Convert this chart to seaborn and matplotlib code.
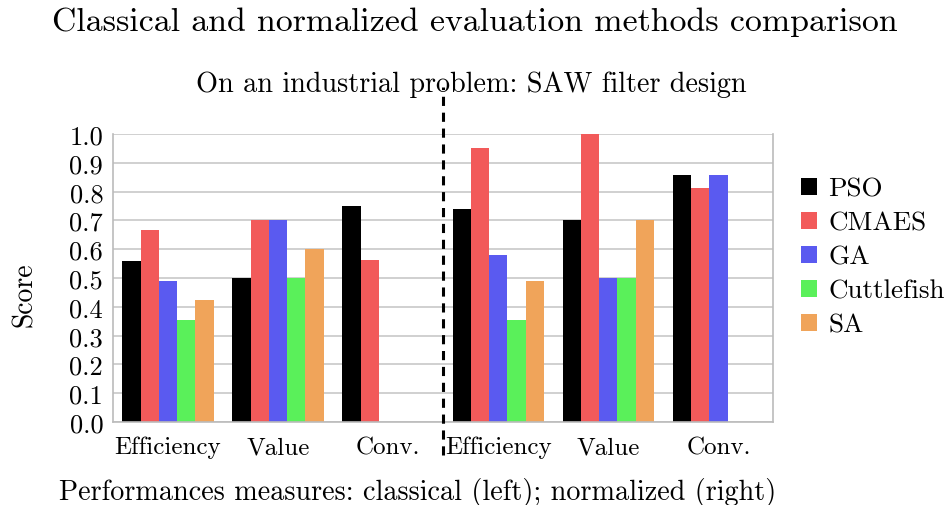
import numpy as np
import pandas as pd
import seaborn as sns
import matplotlib.pyplot as plt
from matplotlib.patches import Patch

# data
groups = ["eff_c", "val_c", "conv_c", "eff_n", "val_n", "conv_n"]
group_labels = ["Efficiency", "Value", "Conv.", "Efficiency", "Value", "Conv."]
methods = ["PSO", "CMAES", "GA", "Cuttlefish", "SA"]
pso = [0.56, 0.50, 0.75, 0.74, 0.70, 0.857]
cmaes = [0.667, 0.70, 0.5625, 0.951, 1.00, 0.8125]
ga = [0.49, 0.70, 0.0, 0.58, 0.50, 0.857]
cuttlefish = [0.354, 0.50, 0.0, 0.354, 0.50, 0.0]
sa = [0.424, 0.60, 0.0, 0.49, 0.70, 0.0]
colors = ["#000000", "#F25A5A", "#5A5AF0", "#5AF05A", "#F0A45A"]

rows = []
for m, vals in zip(methods, [pso, cmaes, ga, cuttlefish, sa]):
    for g, v in zip(groups, vals):
        rows.append({"group": g, "method": m, "score": v})
df = pd.DataFrame(rows)

sns.set_theme(style="white")
plt.rcParams['font.family'] = ['cmr10', 'DejaVu Serif']
plt.rcParams['axes.formatter.use_mathtext'] = True
plt.rcParams['mathtext.fontset'] = 'cm'
plt.rcParams['text.color'] = 'black'
plt.rcParams['xtick.color'] = 'black'
plt.rcParams['ytick.color'] = 'black'

fig, ax = plt.subplots(figsize=(9.49, 5.06), dpi=100)
fig.subplots_adjust(left=0.119, right=0.815, top=0.733, bottom=0.164)

sns.barplot(data=df, x="group", y="score", hue="method", order=groups,
            hue_order=methods, palette=colors, width=0.83, gap=0,
            saturation=1, legend=False, linewidth=0, ax=ax)

ax.set_xlim(-0.5, 5.5)
ax.set_ylim(0, 1.0)
ax.set_yticks(np.arange(0, 1.01, 0.1))
ax.set_yticklabels([f"{v:.1f}" for v in np.arange(0, 1.01, 0.1)], fontsize=19)
ax.set_xticks(range(6))
ax.set_xticklabels(group_labels, fontsize=18)
ax.set_xticks(np.arange(-0.5, 6, 1), minor=True)
ax.tick_params(axis='x', which='major', length=0, pad=10, labelcolor='black')
ax.tick_params(axis='x', which='minor', length=5, color='#bbbbbb', width=1.2, direction='out')
ax.tick_params(axis='y', length=5, color='#bbbbbb', width=1.2, direction='out', pad=2,
               labelcolor='black')
ax.set_xlabel("")
ax.set_ylabel("")
ax.grid(axis='y', color='#c8c8c8', linewidth=1.2)
ax.set_axisbelow(True)
for s in ax.spines.values():
    s.set_color('#bbbbbb')
    s.set_linewidth(1.2)
ax.spines['top'].set_visible(False)

# separator between classical and normalized
ax.axvline(2.5, ymin=-0.115, ymax=1.165, color='black', linestyle=(0, (3, 2.2)),
           linewidth=2.2, clip_on=False, zorder=5)

handles = [Patch(facecolor=c, edgecolor='none', label=m) for m, c in zip(methods, colors)]
fig.legend(handles=handles, loc='center left', bbox_to_anchor=(0.844, 0.49),
           frameon=False, fontsize=19.5, handlelength=0.6, handleheight=0.6,
           handletextpad=0.4, labelspacing=0.38, borderaxespad=0, borderpad=0)

fig.text(0.5, 0.957, "Classical and normalized evaluation methods comparison",
         ha='center', va='center', fontsize=24.4)
fig.text(0.497, 0.832, "On an industrial problem: SAW filter design",
         ha='center', va='center', fontsize=20.3)
fig.text(0.44, 0.027, "Performances measures: classical (left); normalized (right)",
         ha='center', va='center', fontsize=20.3)
fig.text(0.026, 0.417, "Score", rotation=90, ha='center', va='center', fontsize=20)

fig.savefig("out.png", dpi=100)
